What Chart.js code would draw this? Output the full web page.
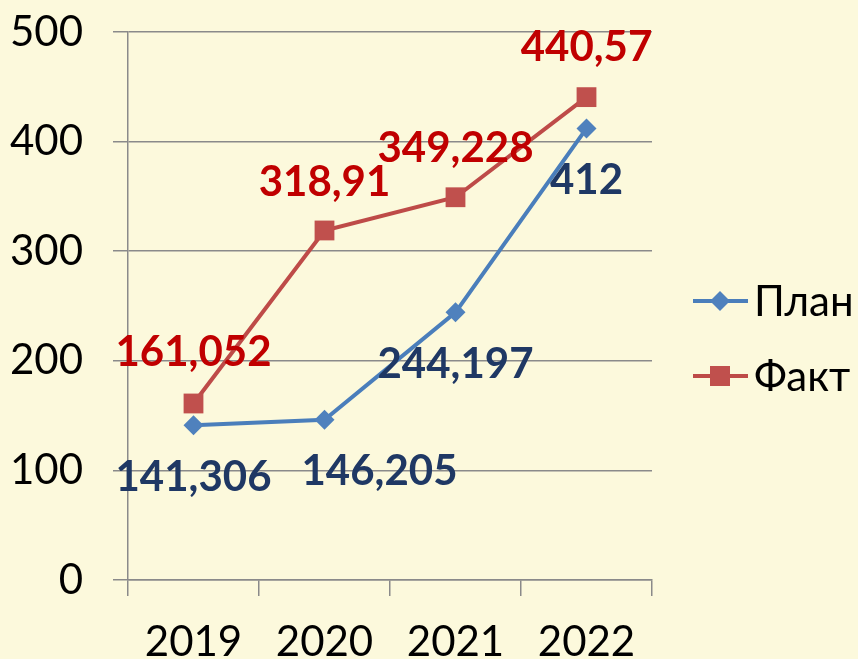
<!DOCTYPE html>
<html>
<head>
<meta charset="utf-8">
<script src="https://cdn.jsdelivr.net/npm/chart.js@4.4.0/dist/chart.umd.min.js"></script>
<style>
  html, body { margin: 0; padding: 0; background: #fcf9dc; }
  #wrap { width: 858px; height: 659px; }
</style>
</head>
<body>
<div id="wrap"><canvas id="plan_fact" width="858" height="659"></canvas></div>
<script>
var years = ['2019', '2020', '2021', '2022'];
var planValues = [141.306, 146.205, 244.197, 412];
var factValues = [161.052, 318.91, 349.228, 440.57];
var yTicks = [0, 100, 200, 300, 400, 500];
var seriesNames = ['План', 'Факт'];

// сдвиг подписей (x, y) относительно точки
var planLabelShift = [[0, 52], [55, 52], [0, 52], [0, 52]];
var factLabelShift = [[0, -51], [0, -48], [0, -49], [0, -50]];

var FONT = 'Lato';

function fmt(v) {
  return String(v).replace('.', ',');
}

var labelsPlugin = {
  id: 'pointLabels',
  afterDatasetsDraw: function (chart) {
    var ctx = chart.ctx;
    ctx.save();
    ctx.font = 'bold 42px ' + FONT;
    ctx.textAlign = 'center';
    ctx.textBaseline = 'middle';
    chart.data.datasets.forEach(function (ds, di) {
      var meta = chart.getDatasetMeta(di);
      var shifts = di === 0 ? planLabelShift : factLabelShift;
      ctx.fillStyle = ds.labelColor;
      meta.data.forEach(function (pt, i) {
        ctx.fillText(fmt(ds.data[i]), pt.x + shifts[i][0], pt.y + shifts[i][1]);
      });
    });
    ctx.restore();
  },
  afterDraw: function (chart) {
    // легенда справа
    var ctx = chart.ctx;
    var ys = [301, 376];
    ctx.save();
    chart.data.datasets.forEach(function (ds, di) {
      var y = ys[di];
      ctx.strokeStyle = ds.borderColor;
      ctx.lineWidth = 4;
      ctx.beginPath();
      ctx.moveTo(693, y);
      ctx.lineTo(748, y);
      ctx.stroke();
      ctx.fillStyle = ds.pointBackgroundColor;
      ctx.beginPath();
      if (di === 0) {
        ctx.moveTo(720, y - 10);
        ctx.lineTo(730, y);
        ctx.lineTo(720, y + 10);
        ctx.lineTo(710, y);
      } else {
        ctx.rect(710, y - 10, 20, 20);
      }
      ctx.fill();
      ctx.fillStyle = '#000';
      ctx.font = '42px ' + FONT;
      ctx.textAlign = 'left';
      ctx.textBaseline = 'middle';
      ctx.fillText(ds.label, 754, y + 1);
    });
    ctx.restore();
  }
};

function draw() {
  var ctx = document.getElementById('plan_fact');
  new Chart(ctx, {
    type: 'line',
    plugins: [labelsPlugin],
    data: {
      labels: years,
      datasets: [{
        label: seriesNames[0],
        data: planValues,
        borderColor: '#4a7ebb',
        backgroundColor: '#4f81bd',
        pointBackgroundColor: '#4f81bd',
        pointBorderWidth: 0,
        pointStyle: 'rectRot',
        pointRadius: 10,
        borderWidth: 4,
        labelColor: '#1f3864',
        tension: 0
      }, {
        label: seriesNames[1],
        data: factValues,
        borderColor: '#be4b48',
        backgroundColor: '#c0504d',
        pointBackgroundColor: '#c0504d',
        pointBorderWidth: 0,
        pointStyle: 'rect',
        pointRadius: 14,
        borderWidth: 4,
        labelColor: '#c00000',
        tension: 0
      }]
    },
    options: {
      responsive: false,
      animation: false,
      devicePixelRatio: 1,
      layout: {
        padding: { top: 32, right: 206, bottom: 0, left: 0 }
      },
      plugins: {
        legend: { display: false },
        tooltip: { enabled: false }
      },
      scales: {
        x: {
          offset: true,
          afterFit: function (scale) {
            scale.height = 79;
            scale.paddingLeft = 0;
            scale.paddingRight = 0;
          },
          grid: {
            offset: true,
            drawOnChartArea: false,
            color: '#8a8a8a',
            lineWidth: 1.5,
            tickLength: 16
          },
          border: { color: '#8a8a8a', width: 1.5 },
          ticks: {
            color: '#000',
            padding: 21,
            font: { family: FONT, size: 42 }
          }
        },
        y: {
          min: 0,
          max: 500,
          afterFit: function (scale) {
            scale.width = 128;
            scale.paddingTop = 0;
            scale.paddingBottom = 0;
          },
          afterBuildTicks: function (scale) {
            scale.ticks = yTicks.map(function (v) { return { value: v }; });
          },
          grid: {
            color: '#8a8a8a',
            lineWidth: 1.5,
            tickLength: 15
          },
          border: { color: '#8a8a8a', width: 1.5 },
          ticks: {
            color: '#000',
            padding: 30,
            font: { family: FONT, size: 42 }
          }
        }
      }
    }
  });
}

if (document.fonts && document.fonts.load) {
  Promise.all([
    document.fonts.load('42px ' + FONT),
    document.fonts.load('bold 42px ' + FONT)
  ]).then(draw, draw);
} else {
  draw();
}
</script>
</body>
</html>
